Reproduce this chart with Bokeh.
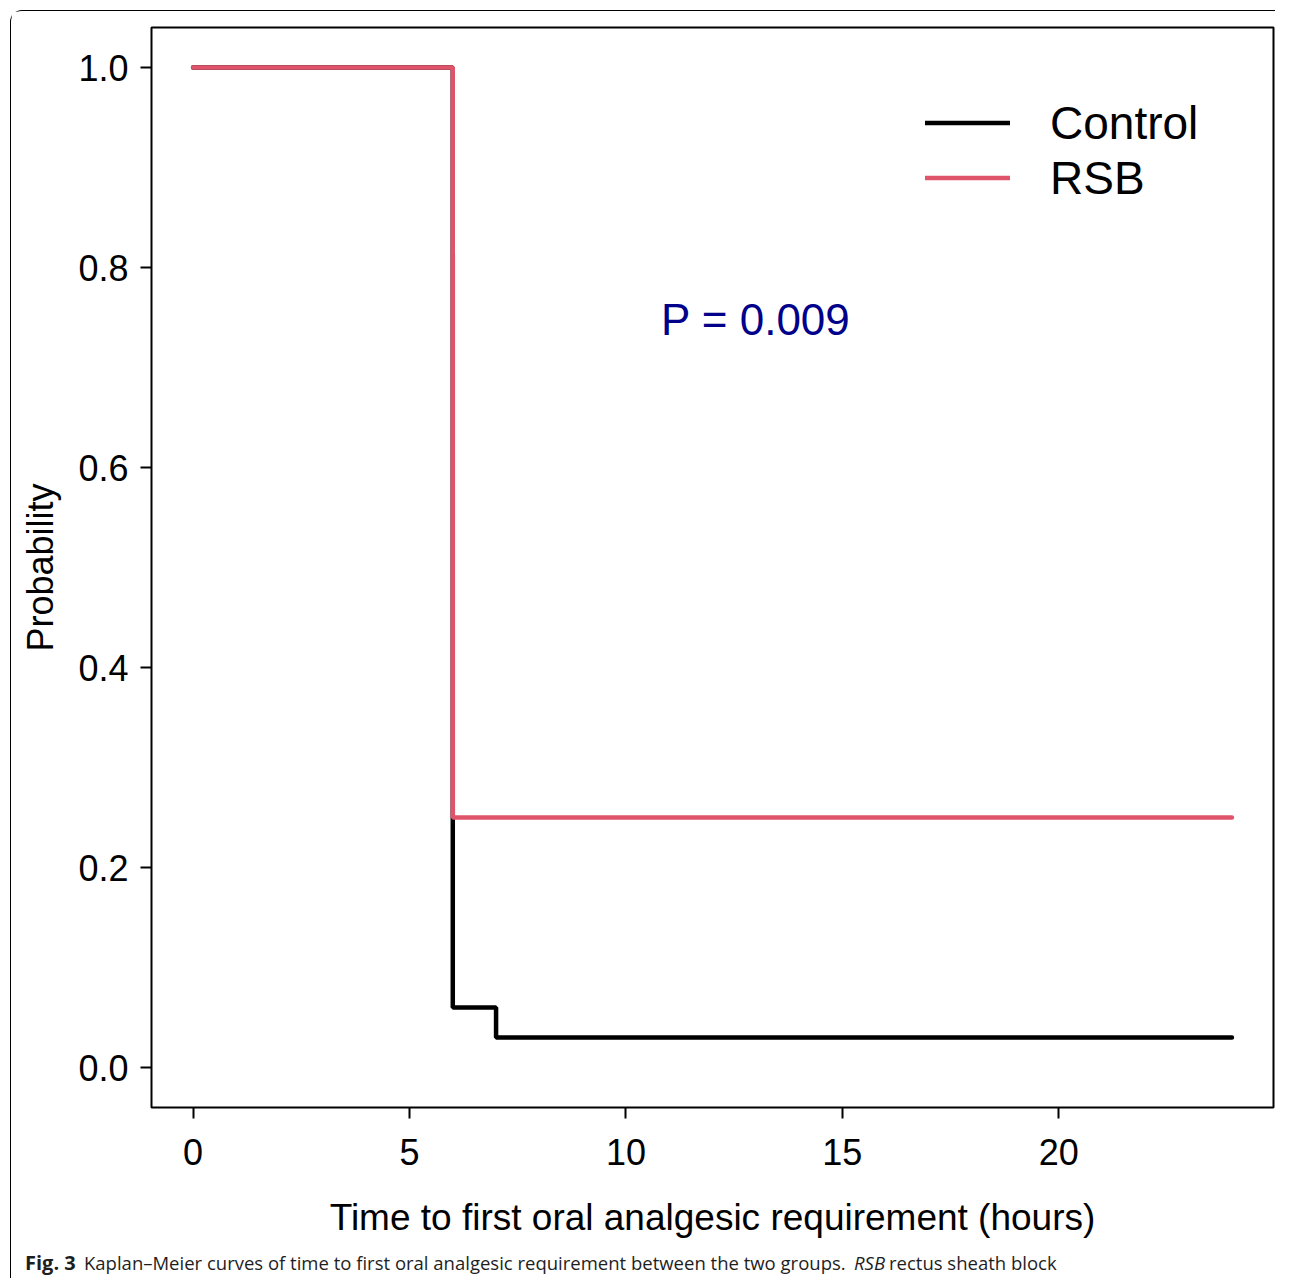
from bokeh.plotting import figure
from bokeh.layouts import column
from bokeh.models import Label, Legend, LegendItem, FixedTicker, NumeralTickFormatter, Range1d, Div
from bokeh.embed import file_html
from bokeh.resources import INLINE

# Data (Kaplan-Meier step curves)
control_time = [0, 6, 7, 24]
control_surv = [1.0, 0.06, 0.03, 0.03]
rsb_time = [0, 6, 24]
rsb_surv = [1.0, 0.25, 0.25]

x_ticks = [0, 5, 10, 15, 20]
y_ticks = [0.0, 0.2, 0.4, 0.6, 0.8, 1.0]

RED = "#DF536B"
FONT = "Liberation Sans"
W = 1264

p = figure(width=W, height=1237, output_backend="svg", toolbar_location=None,
           x_range=Range1d(-0.96, 24.96), y_range=Range1d(-0.04, 1.04),
           min_border_left=140, min_border_right=2, min_border_top=16, min_border_bottom=141)

p.xgrid.visible = False
p.ygrid.visible = False
p.outline_line_color = "black"
p.outline_line_width = 2
p.background_fill_color = "white"
p.border_fill_color = "white"

for ax in (p.xaxis[0], p.yaxis[0]):
    ax.axis_line_color = None
    ax.major_tick_line_color = "black"
    ax.major_tick_line_width = 2
    ax.major_tick_out = 11
    ax.major_tick_in = 0
    ax.minor_tick_line_color = None
    ax.major_label_text_font = FONT
    ax.major_label_text_font_size = "36px"
    ax.major_label_text_color = "black"
    ax.axis_label_text_font = FONT
    ax.axis_label_text_font_style = "normal"
    ax.axis_label_text_color = "black"

p.xaxis.ticker = FixedTicker(ticks=x_ticks)
p.yaxis.ticker = FixedTicker(ticks=y_ticks)
p.yaxis.formatter = NumeralTickFormatter(format="0.0")
p.xaxis.axis_label = "Time to first oral analgesic requirement (hours)"
p.yaxis.axis_label = "Probability"
p.xaxis.axis_label_text_font_size = "37px"
p.yaxis.axis_label_text_font_size = "36px"
p.xaxis.major_label_standoff = 20
p.yaxis.major_label_standoff = 12
p.xaxis.axis_label_standoff = 29
p.yaxis.axis_label_standoff = 14

r_ctrl = p.step(control_time, control_surv, mode="after", line_color="black",
                line_width=4.5, line_cap="round")
r_rsb = p.step(rsb_time, rsb_surv, mode="after", line_color=RED,
               line_width=4.5, line_cap="round")

legend = Legend(items=[LegendItem(label="Control", renderers=[r_ctrl]),
                       LegendItem(label="RSB", renderers=[r_rsb])],
                location=(774, 902), orientation="vertical",
                glyph_width=85, glyph_height=55, label_height=55, spacing=0,
                padding=0, margin=0, label_standoff=40,
                label_text_font=FONT, label_text_font_size="46px",
                label_text_color="black",
                border_line_color=None, background_fill_alpha=0)
p.add_layout(legend)

p.add_layout(Label(x=13.0, y=0.748, text="P = 0.009", text_font=FONT,
                   text_font_size="44px", text_color="#00008B",
                   text_align="center", text_baseline="middle"))

# Caption strip (pixel-unit ranges)
cap_font = "Open Sans"
cap_size = "18.5px"
cap_color = "#1e1e1e"
off = 11.5
caption_parts = [
    (25, "Fig. 3", "bold", "20px"),
    (84, "Kaplan\u2013Meier curves of time to first oral analgesic requirement between the two groups.", "normal", cap_size),
    (854, "RSB", "italic", cap_size),
    (889, "rectus sheath block", "normal", cap_size),
]

cap = figure(width=W, height=30, output_backend="svg", toolbar_location=None,
             x_range=Range1d(0, W), y_range=Range1d(0, 30),
             min_border=0, outline_line_color=None)
if "frame_align" in cap.properties():
    cap.frame_align = False
    p.frame_align = False
    cap.axis.visible = False
    cap.grid.visible = False
    for px, txt, style, size in caption_parts:
        cap.add_layout(Label(x=px - off, y=16, text=txt, text_font=cap_font,
                             text_font_style=style, text_font_size=size,
                             text_color=cap_color, text_baseline="middle"))
    cap_model = cap
else:
    html = ('<b style="font-size:20px">Fig. 3</b> Kaplan\u2013Meier curves of time to first oral '
            'analgesic requirement between the two groups. <i>RSB</i> rectus sheath block')
    cap_model = Div(text=html, width=W, height=30,
                    styles={"font-family": "Open Sans", "font-size": "18.5px", "color": cap_color,
                            "padding-left": "13px", "line-height": "30px"})

inner = column(p, cap_model, spacing=0,
               styles={"border-top": "1.5px solid black", "border-left": "1.5px solid black",
                       "border-top-left-radius": "12px"})
outer = column(inner, styles={"padding-left": "10px", "padding-top": "10px"})

open("out.html", "w").write(file_html(outer, INLINE))
